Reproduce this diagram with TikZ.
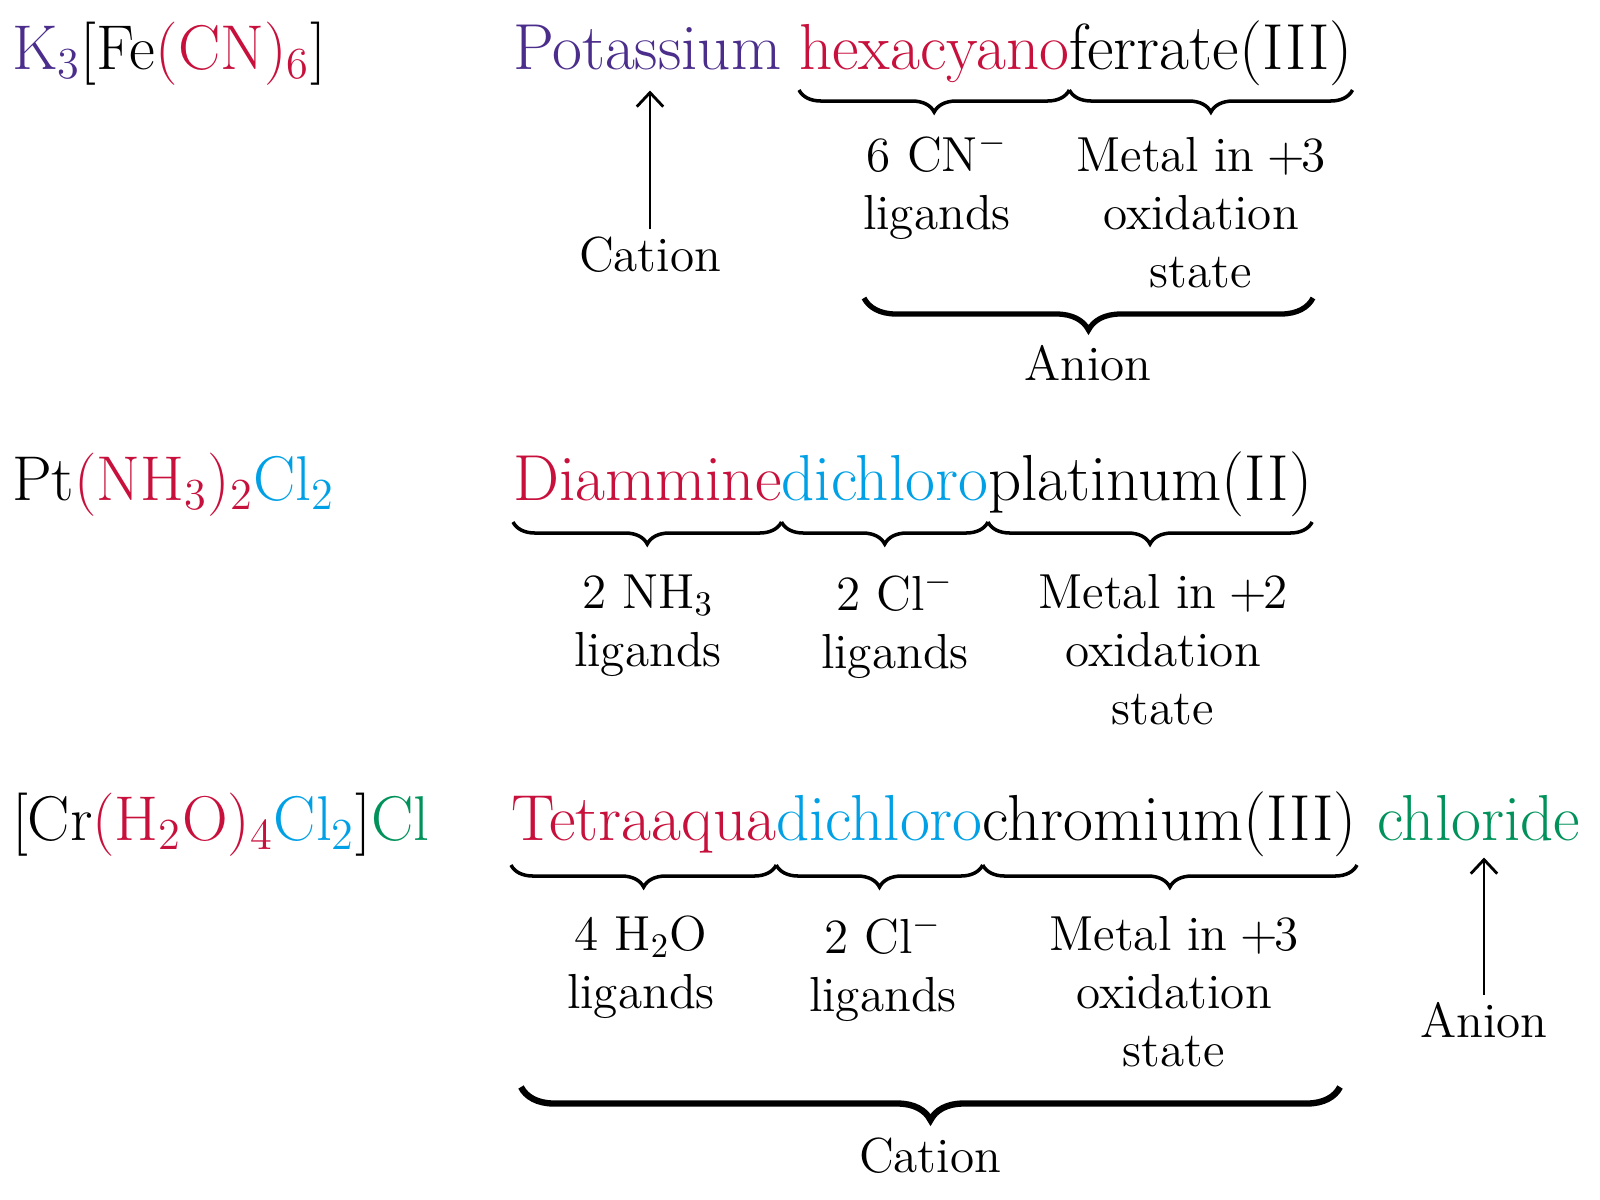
\documentclass[tikz,border=0pt]{standalone}
\usepackage{fontspec}
\usetikzlibrary{decorations.pathreplacing,arrows.meta,calc}
\definecolor{kpurple}{RGB}{75,45,140}
\definecolor{kred}{RGB}{200,16,60}
\definecolor{kblue}{RGB}{0,160,230}
\definecolor{kgreen}{RGB}{0,146,90}
\newcommand\kplus{\kern-0.07em+\kern-0.07em}
\newcommand\kstrut{\rule{0pt}{12pt}}
\begin{document}
\begin{tikzpicture}[x=0.01cm,y=-0.01cm,
  every node/.style={inner sep=0pt,outer sep=0pt},
  big/.style={font=\fontsize{18.5}{22}\selectfont, anchor=base west},
  formula/.style={font=\fontsize{18}{22}\selectfont, anchor=base west},
  lab/.style={font=\fontsize{14}{16.6}\selectfont, align=center, anchor=north},
  one/.style={font=\fontsize{14}{16.6}\selectfont, anchor=base},
  brc/.style={decorate, decoration={brace,mirror,amplitude=0.22cm}, line width=1pt},
  bigbrc/.style={decorate, decoration={brace,mirror,amplitude=0.32cm}, line width=1.5pt},
  arr/.style={-{Straight Barb[length=4pt,width=7.5pt]}, line width=0.8pt}]
\useasboundingbox (0,0) rectangle (1600,1200);

% ---------- Row 1 ----------
\node[formula] (f1) at (12,69) {\textcolor{kpurple}{K\textsubscript{3}}[Fe\textcolor{kred}{(CN)\textsubscript{6}}]};
\node[big,text=kpurple] (pot) at (513,69) {Potassium};
\node[big,text=kred] (hex) at (799,69) {hexacyano};
\node[big] (fer) at (hex.base east) {ferrate(III)};
\draw[brc] ([yshift=-0.21cm]hex.base west) -- ([yshift=-0.21cm]hex.base east);
\draw[brc] ([yshift=-0.21cm]fer.base west) -- ([yshift=-0.21cm]fer.base east);
\node[lab] (cn) at (937,129) {\kstrut 6 CN\textsuperscript{$-$}\\ligands};
\node[lab] (m3a) at (1201,129) {\kstrut Metal in \kplus3\\oxidation\\state};
\coordinate (a1l) at (864,298);
\coordinate (a1r) at (1313,298);
\draw[bigbrc] (a1l) -- (a1r);
\node[one] (an1) at (1088,380) {Anion};
\node[one] (cat1) at (650,271) {Cation};
\draw[arr, shorten <=0.07cm] (cat1.north) -- ($(cat1.north |- pot.south)+(0,21)$);

% ---------- Row 2 ----------
\node[formula] (f2) at (12,500) {Pt\textcolor{kred}{(NH\textsubscript{3})\textsubscript{2}}\textcolor{kblue}{Cl\textsubscript{2}}};
\node[big,text=kred] (dia) at (513,500) {Diammine};
\node[big,text=kblue] (dic2) at (dia.base east) {dichloro};
\node[big] (pla) at (dic2.base east) {platinum(II)};
\draw[brc] ([yshift=-0.22cm]dia.base west) -- ([yshift=-0.22cm]dia.base east);
\draw[brc] ([yshift=-0.22cm]dic2.base west) -- ([yshift=-0.22cm]dic2.base east);
\draw[brc] ([yshift=-0.22cm]pla.base west) -- ([yshift=-0.22cm]pla.base east);
\node[lab] (nh3) at (648,566) {\kstrut 2 NH\textsubscript{3}\\ligands};
\node[lab] (cl2a) at (895,568) {\kstrut 2 Cl\textsuperscript{$-$}\\ligands};
\node[lab] (m2) at (1163,566) {\kstrut Metal in \kplus2\\oxidation\\state};

% ---------- Row 3 ----------
\node[formula] (f3) at (12,840) {[Cr\textcolor{kred}{(H\textsubscript{2}O)\textsubscript{4}}\textcolor{kblue}{Cl\textsubscript{2}}]\textcolor{kgreen}{Cl}};
\node[big,text=kred] (tet) at (511,840) {Tetraaqua};
\node[big,text=kblue] (dic3) at (tet.base east) {dichloro};
\node[big] (chr) at (dic3.base east) {chromium(III)};
\node[big,text=kgreen] (chl) at ($(chr.base east)+(20,0)$) {chloride};
\draw[brc] ([yshift=-0.25cm]tet.base west) -- ([yshift=-0.25cm]tet.base east);
\draw[brc] ([yshift=-0.25cm]dic3.base west) -- ([yshift=-0.25cm]dic3.base east);
\draw[brc] ([yshift=-0.25cm]chr.base west) -- ([yshift=-0.25cm]chr.base east);
\node[lab] (h2o) at (641,908) {\kstrut 4 H\textsubscript{2}O\\ligands};
\node[lab] (cl2b) at (883,911) {\kstrut 2 Cl\textsuperscript{$-$}\\ligands};
\node[lab] (m3b) at (1174,908) {\kstrut Metal in \kplus3\\oxidation\\state};
\node[one] (an3) at (1484,1037) {Anion};
\draw[arr, shorten <=0.07cm] (an3.north) -- ($(an3.north |- chl.south)+(0,17)$);
\coordinate (c3l) at (521,1087);
\coordinate (c3r) at (1340,1087);
\draw[bigbrc, line width=1.8pt, decoration={brace,mirror,amplitude=0.33cm}] (c3l) -- (c3r);
\node[one] (cat3) at (930,1172) {Cation};
\end{tikzpicture}
\end{document}
